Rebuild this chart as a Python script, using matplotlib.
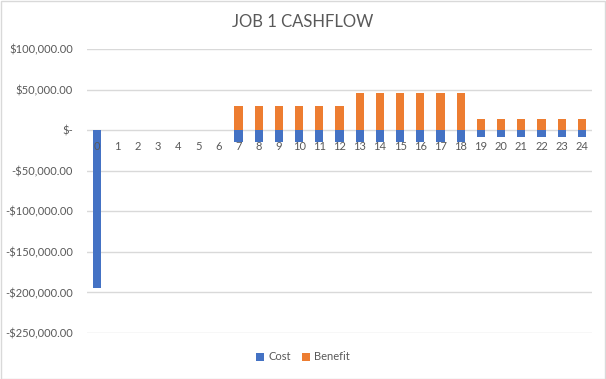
import matplotlib
matplotlib.use("Agg")
import matplotlib.pyplot as plt
from matplotlib.ticker import FuncFormatter
from matplotlib.patches import Rectangle

years = list(range(25))
cost = [-195000, 0, 0, 0, 0, 0, 0,
        -15000, -15000, -15000, -15000, -15000, -15000,
        -15000, -15000, -15000, -15000, -15000, -15000,
        -8500, -8500, -8500, -8500, -8500, -8500]
benefit = [0, 0, 0, 0, 0, 0, 0,
           29500, 29500, 29500, 29500, 29500, 29500,
           45500, 45500, 45500, 45500, 45500, 45500,
           14000, 14000, 14000, 14000, 14000, 14000]
yticks = [100000, 50000, 0, -50000, -100000, -150000, -200000, -250000]

plt.rcParams['font.family'] = ['Lato', 'DejaVu Sans']
W, H = 606, 379
fig = plt.figure(figsize=(W / 100, H / 100), dpi=100)
ax = fig.add_axes([87 / W, 1 - 333 / H, (592 - 87) / W, (333 - 49) / H])

blue = '#4472C4'
orange = '#ED7D31'
for v in yticks:
    ax.axhline(v, color='#d9d9d9', linewidth=1, zorder=0)
ax.bar(years, cost, width=0.41, color=blue, label='Cost', zorder=1)
ax.bar(years, benefit, width=0.41, color=orange, label='Benefit', zorder=1)

ax.set_xlim(-0.5, 24.5)
ax.set_ylim(-250000, 100000)
ax.set_yticks(yticks)


def fmt(v, pos):
    if v == 0:
        return '$-'
    s = '${:,.2f}'.format(abs(v))
    return '-' + s if v < 0 else s


ax.yaxis.set_major_formatter(FuncFormatter(fmt))
ax.set_axisbelow(False)
for s in ['top', 'right', 'left']:
    ax.spines[s].set_visible(False)
ax.spines['bottom'].set_position(('data', 0))
ax.spines['bottom'].set_visible(False)
ax.set_xticks(years)
ax.set_xticklabels([str(y) for y in years])
ax.tick_params(axis='both', length=0, colors='#595959', labelsize=8)
ax.tick_params(axis='y', pad=10)
ax.tick_params(axis='x', pad=8)

fig.text(0.5, 1 - 22 / H, 'JOB 1 CASHFLOW', ha='center', va='center',
         fontsize=12, color='#595959')

leg = fig.legend(loc='center', bbox_to_anchor=(0.5, 1 - 357 / H), ncol=2,
                 frameon=False, fontsize=8, handlelength=0.7, handleheight=0.7,
                 handletextpad=0.4, columnspacing=1.0, labelcolor='#595959')

fig.patches.append(Rectangle((0.5 / W, 0.5 / H), 1 - 1.5 / W, 1 - 1.5 / H,
                             transform=fig.transFigure, fill=False,
                             edgecolor='#d9d9d9', linewidth=1))

fig.savefig('out.png', dpi=100)
